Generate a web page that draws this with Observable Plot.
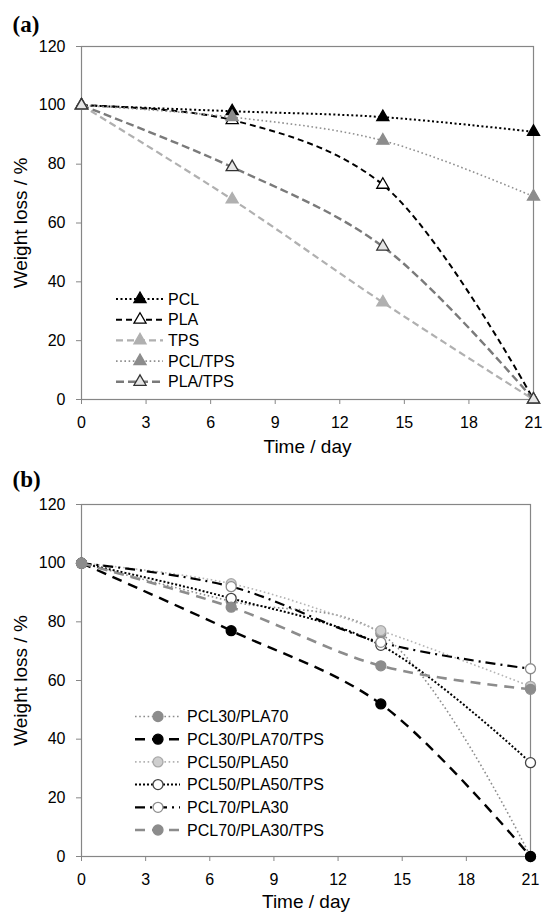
<!DOCTYPE html>
<html>
<head>
<meta charset="utf-8">
<script src="https://cdn.jsdelivr.net/npm/d3@7"></script>
<script src="https://cdn.jsdelivr.net/npm/@observablehq/plot@0.6"></script>
<style>
  body { margin: 0; background: #fff; font-family: "Liberation Sans", Arial, sans-serif; }
  .panel { position: relative; width: 544px; }
  .panel svg { display: block; }
  .legend { position: absolute; left: 0; top: 0; pointer-events: none; }
</style>
</head>
<body>
<div id="pa" class="panel"></div>
<div id="pb" class="panel"></div>
<script>
// ---------- data ----------
const days = [0, 7, 14, 21];
const xTicks = [0, 3, 6, 9, 12, 15, 18, 21];
const yTicks = [0, 20, 40, 60, 80, 100, 120];
const yLabel = "Weight loss / %";
const xLabel = "Time / day";

// panel (a)
const namesA = ["PCL", "PLA", "TPS", "PCL/TPS", "PLA/TPS"];
const pcl    = [100, 98, 96, 91];
const pla    = [100, 95, 73, 0];
const tps    = [100, 68, 33, 0];
const pclTps = [100, 96, 88, 69];
const plaTps = [100, 79, 52, 0];

// panel (b)
const namesB = ["PCL30/PLA70", "PCL30/PLA70/TPS", "PCL50/PLA50", "PCL50/PLA50/TPS", "PCL70/PLA30", "PCL70/PLA30/TPS"];
const pcl30pla70    = [100, 87, 76, 0];
const pcl30pla70tps = [100, 77, 52, 0];
const pcl50pla50    = [100, 93, 77, 58];
const pcl50pla50tps = [100, 88, 72, 32];
const pcl70pla30    = [100, 92, 73, 64];
const pcl70pla30tps = [100, 85, 65, 57];

// ---------- styles ----------
const stylesA = [
  {stroke: "#000", width: 2,   dash: "2,2.5", symbol: "triangle", fill: "#000", mstroke: "#000"},
  {stroke: "#000", width: 2,   dash: "6,4",   symbol: "triangle", fill: "#fff", mstroke: "#000"},
  {stroke: "#b0b0b0", width: 2.2, dash: "7,4", symbol: "triangle", fill: "#b0b0b0", mstroke: "#b0b0b0"},
  {stroke: "#8f8f8f", width: 1.6, dash: "1.6,2.6", symbol: "triangle", fill: "#8c8c8c", mstroke: "#8c8c8c"},
  {stroke: "#7a7a7a", width: 2.4, dash: "8,4", symbol: "triangle", fill: "#e6e6e6", mstroke: "#333"}
];
const stylesB = [
  {stroke: "#8c8c8c", width: 1.6, dash: "1.6,2.6", symbol: "circle", fill: "#8c8c8c", mstroke: "#8c8c8c"},
  {stroke: "#000",    width: 2.4, dash: "10,7",    symbol: "circle", fill: "#000", mstroke: "#000"},
  {stroke: "#b3b3b3", width: 1.6, dash: "1.6,2.6", symbol: "circle", fill: "#cfcfcf", mstroke: "#a8a8a8"},
  {stroke: "#000",    width: 2,   dash: "2,2",     symbol: "circle", fill: "#fff", mstroke: "#444"},
  {stroke: "#000",    width: 2.2, dash: "10,5,2,5", symbol: "circle", fill: "#fff", mstroke: "#8c8c8c"},
  {stroke: "#8c8c8c", width: 2.6, dash: "10,7",    symbol: "circle", fill: "#8c8c8c", mstroke: "#8c8c8c"}
];

function drawPanel(el, cfg) {
  const marks = [
    Plot.frame({stroke: "#868686", strokeWidth: 1.2}),
    Plot.axisY({ticks: yTicks, tickSize: 5, tickPadding: 11, stroke: "#868686", label: null}),
    Plot.axisX({ticks: xTicks, tickSize: 5, tickPadding: 12, stroke: "#868686", label: null})
  ];
  cfg.names.forEach((name, i) => {
    const s = cfg.styles[i];
    const data = days.map((d, j) => ({day: d, value: cfg.values[i][j], name}));
    marks.push(Plot.line(data, {x: "day", y: "value", stroke: s.stroke, strokeWidth: s.width,
      strokeDasharray: s.dash, curve: "catmull-rom", strokeLinecap: "butt"}));
    marks.push(Plot.dot(data, {x: "day", y: "value", symbol: s.symbol, r: cfg.r,
      fill: s.fill, stroke: s.mstroke, strokeWidth: 1.3}));
  });
  marks.push(Plot.text({length: 1}, {frameAnchor: "left", text: [yLabel], rotate: -90,
    textAnchor: "middle", lineAnchor: "middle", dx: -61, fontSize: 19}));
  marks.push(Plot.text({length: 1}, {frameAnchor: "bottom", text: [xLabel], textAnchor: "middle",
    lineAnchor: "middle", dy: cfg.xLabelDy, fontSize: 19}));
  marks.push(Plot.text({length: 1}, {frameAnchor: "top-left", text: [cfg.title], textAnchor: "start",
    lineAnchor: "middle", dx: -69, dy: cfg.titleDy,
    fontFamily: "'Liberation Serif', 'Times New Roman', serif", fontWeight: "bold", fontSize: 23}));

  const chart = Plot.plot({
    width: 544, height: cfg.height,
    marginLeft: 81, marginRight: cfg.marginRight, marginTop: cfg.marginTop, marginBottom: cfg.marginBottom,
    x: {domain: [0, 21]},
    y: {domain: [0, 120]},
    style: {fontFamily: "'Liberation Sans', Arial, sans-serif", fontSize: "16px", color: "#000", background: "#fff", overflow: "visible"},
    marks
  });
  el.appendChild(chart);

  // legend overlay
  const lg = cfg.legend;
  const svg = d3.select(el).append("svg").attr("class", "legend")
    .attr("width", 544).attr("height", cfg.height);
  cfg.names.forEach((name, i) => {
    const s = cfg.styles[i];
    const y = lg.y0 + i * lg.dy;
    svg.append("line").attr("x1", lg.x1).attr("x2", lg.x2).attr("y1", y).attr("y2", y)
      .attr("stroke", s.stroke).attr("stroke-width", s.width).attr("stroke-dasharray", s.dash);
    const sym = s.symbol === "triangle" ? d3.symbolTriangle : d3.symbolCircle;
    svg.append("path").attr("d", d3.symbol(sym, Math.PI * cfg.r * cfg.r)())
      .attr("transform", `translate(${lg.xm},${y})`)
      .attr("fill", s.fill).attr("stroke", s.mstroke).attr("stroke-width", 1.3);
    svg.append("text").attr("x", lg.xt).attr("y", y).attr("dy", "0.35em")
      .attr("font-size", 16).attr("font-family", "'Liberation Sans', Arial, sans-serif")
      .attr("fill", "#000").text(name);
  });
}

drawPanel(document.getElementById("pa"), {
  names: namesA, values: [pcl, pla, tps, pclTps, plaTps], styles: stylesA, r: 4.5,
  title: "(a)", height: 462, marginTop: 46, marginBottom: 63, marginRight: 11,
  xLabelDy: 47, titleDy: -22,
  legend: {y0: 299, dy: 20.7, x1: 116, x2: 163, xm: 140, xt: 168}
});
drawPanel(document.getElementById("pb"), {
  names: namesB, values: [pcl30pla70, pcl30pla70tps, pcl50pla50, pcl50pla50tps, pcl70pla30, pcl70pla30tps],
  styles: stylesB, r: 5,
  title: "(b)", height: 451, marginTop: 42, marginBottom: 57, marginRight: 14,
  xLabelDy: 45, titleDy: -25,
  legend: {y0: 254.5, dy: 22.7, x1: 135, x2: 180, xm: 158, xt: 187}
});
</script>
</body>
</html>
